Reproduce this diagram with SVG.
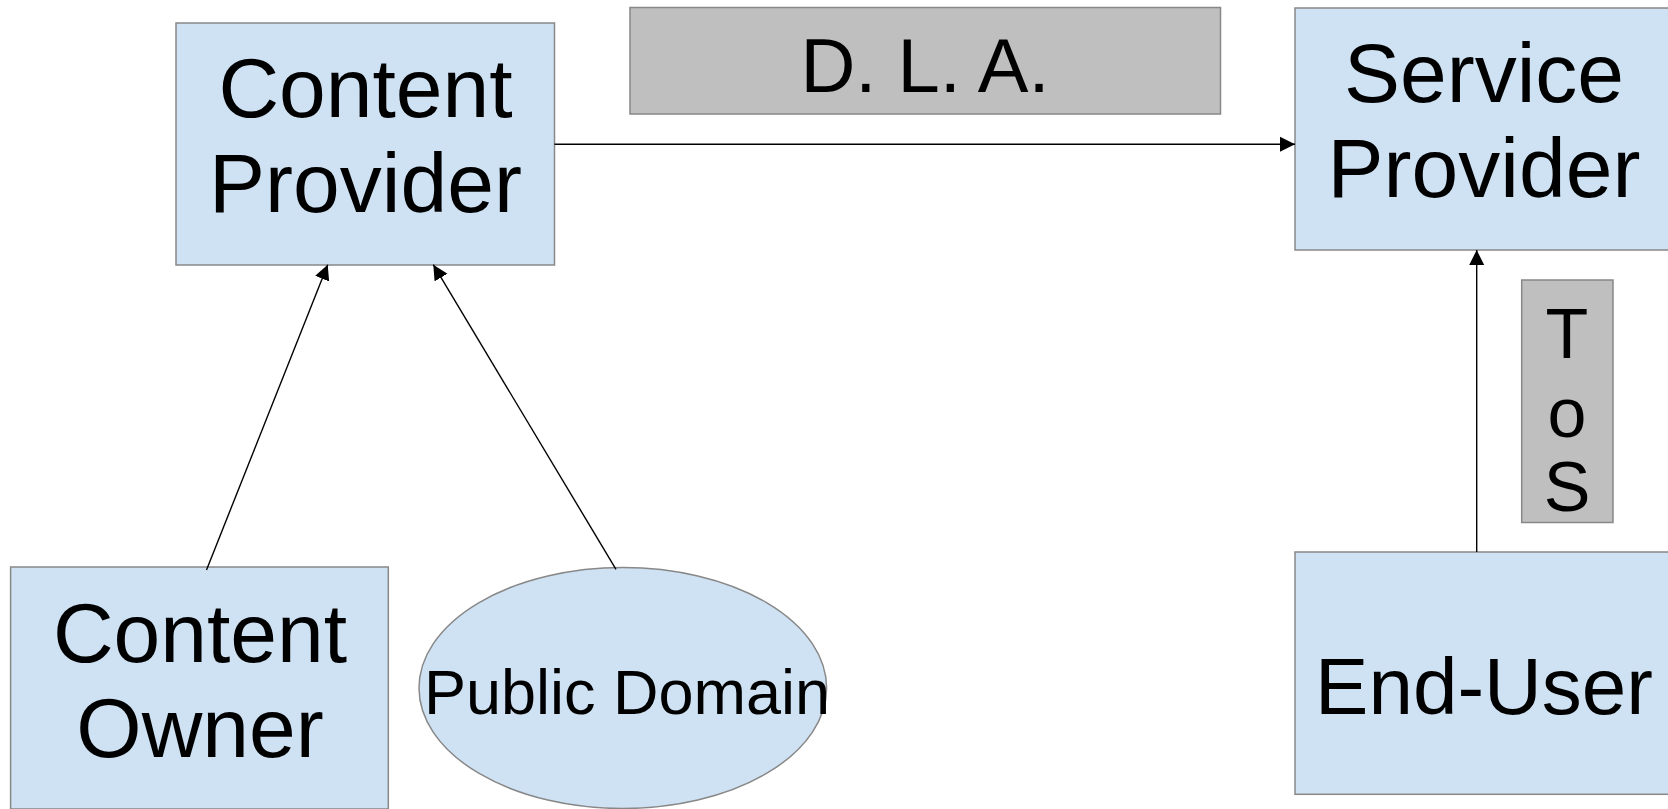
<svg xmlns="http://www.w3.org/2000/svg" width="1668" height="809" viewBox="0 0 1668 809">
  <style>
    .node { fill: #cfe2f3; stroke: #888888; stroke-width: 1.5; }
    .label { fill: #bfbfbf; stroke: #888888; stroke-width: 1.5; }
    text { font-family: "Liberation Sans", Arial, sans-serif; fill: #000000; text-anchor: middle; }
    .big { font-size: 84px; }
    .conn { stroke: #000000; stroke-width: 1.4; fill: none; marker-end: url(#arrow); }
  </style>
  <defs>
    <marker id="arrow" markerUnits="userSpaceOnUse" markerWidth="16" markerHeight="16" viewBox="0 0 16 16" refX="15" refY="8" orient="auto">
      <path d="M0,0.5 L15,8 L0,15.5 Z" fill="#000000"/>
    </marker>
  </defs>

  <rect width="1668" height="809" fill="#ffffff"/>

  <g id="dla">
    <rect class="label" x="630" y="7.5" width="590.5" height="106.5"/>
    <text x="925" y="91.7" font-size="76">D. L. A.</text>
  </g>

  <g id="content-provider">
    <rect class="node" x="176" y="23" width="378.5" height="242"/>
    <text class="big" x="365.5" y="116.7">Content</text>
    <text class="big" x="365.5" y="211.7">Provider</text>
  </g>

  <g id="service-provider">
    <rect class="node" x="1295" y="8" width="378" height="242"/>
    <text class="big" x="1484" y="101.7">Service</text>
    <text class="big" x="1484" y="196.7">Provider</text>
  </g>

  <g id="tos">
    <rect class="label" x="1521.7" y="280" width="91.3" height="242.5"/>
    <text x="1567" y="358.3" font-size="70">T</text>
    <text x="1567" y="436.7" font-size="70">o</text>
    <text x="1567" y="510.7" font-size="70">S</text>
  </g>

  <g id="content-owner">
    <rect class="node" x="10.6" y="567" width="377.7" height="242"/>
    <text class="big" x="200" y="662">Content</text>
    <text class="big" x="200" y="756.5">Owner</text>
  </g>

  <g id="public-domain">
    <ellipse class="node" cx="622.8" cy="688" rx="203.8" ry="120.5"/>
    <text x="627" y="714" font-size="63">Public Domain</text>
  </g>

  <g id="end-user">
    <rect class="node" x="1295" y="552" width="378" height="242.3"/>
    <text x="1484" y="714" font-size="80">End-User</text>
  </g>

  <g id="connectors">
    <line class="conn" x1="554.5" y1="144.3" x2="1295" y2="144.3"/>
    <line class="conn" x1="206.5" y1="570" x2="327.7" y2="264.7"/>
    <line class="conn" x1="616" y1="569.3" x2="433.3" y2="264.7"/>
    <line class="conn" x1="1476.7" y1="552" x2="1476.7" y2="250"/>
  </g>
</svg>
